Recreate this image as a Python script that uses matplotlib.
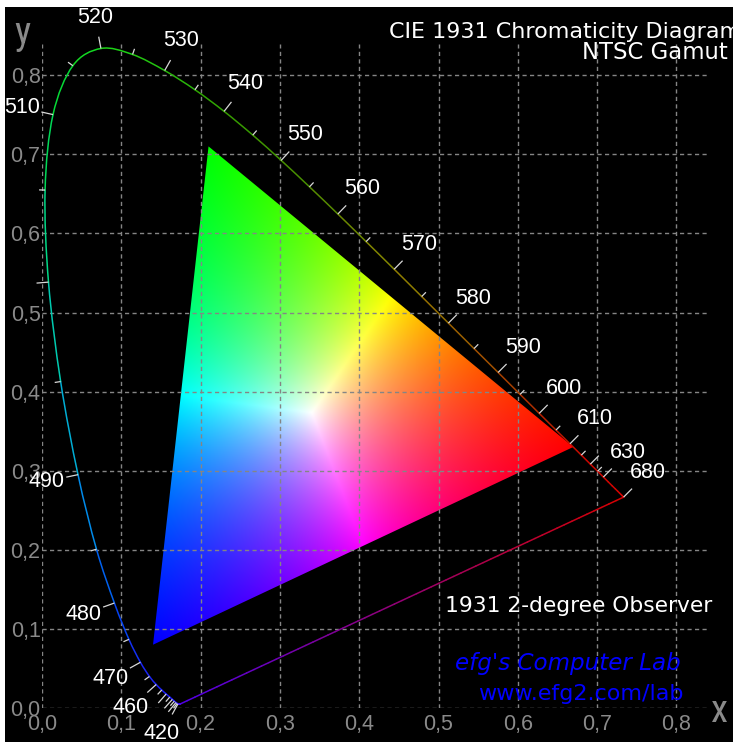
import numpy as np
import matplotlib
matplotlib.use('Agg')
import matplotlib.pyplot as plt
from matplotlib import font_manager as fm
from matplotlib.patches import Polygon, Rectangle, PathPatch
from matplotlib.path import Path
from matplotlib.ticker import FuncFormatter

# CIE 1931 2-degree observer, spectral locus chromaticities (5 nm steps)
wavelengths = list(range(380, 685, 5))
locus_x = [0.1741, 0.1740, 0.1738, 0.1736, 0.1733, 0.1730, 0.1726, 0.1721,
           0.1714, 0.1703, 0.1689, 0.1669, 0.1644, 0.1611, 0.1566, 0.1510,
           0.1440, 0.1355, 0.1241, 0.1096, 0.0913, 0.0687, 0.0454, 0.0235,
           0.0082, 0.0039, 0.0139, 0.0389, 0.0743, 0.1142, 0.1547, 0.1929,
           0.2296, 0.2658, 0.3016, 0.3373, 0.3731, 0.4087, 0.4441, 0.4788,
           0.5125, 0.5448, 0.5752, 0.6029, 0.6270, 0.6482, 0.6658, 0.6801,
           0.6915, 0.7006, 0.7079, 0.7140, 0.7190, 0.7230, 0.7260, 0.7283,
           0.7300, 0.7311, 0.7320, 0.7327, 0.7334]
locus_y = [0.0050, 0.0050, 0.0049, 0.0049, 0.0048, 0.0048, 0.0048, 0.0048,
           0.0051, 0.0058, 0.0069, 0.0086, 0.0109, 0.0138, 0.0177, 0.0227,
           0.0297, 0.0399, 0.0578, 0.0868, 0.1327, 0.2007, 0.2950, 0.4127,
           0.5384, 0.6548, 0.7502, 0.8120, 0.8338, 0.8262, 0.8059, 0.7816,
           0.7543, 0.7243, 0.6923, 0.6589, 0.6245, 0.5896, 0.5547, 0.5202,
           0.4866, 0.4544, 0.4242, 0.3965, 0.3725, 0.3514, 0.3340, 0.3197,
           0.3083, 0.2993, 0.2920, 0.2859, 0.2809, 0.2770, 0.2740, 0.2717,
           0.2700, 0.2689, 0.2680, 0.2673, 0.2666]

labeled_nm = [420, 460, 470, 480, 490, 510, 520, 530, 540, 550, 560, 570,
              580, 590, 600, 610, 630, 680]
tick_first, tick_last = 420, 630

# NTSC primaries (R, G, B)
ntsc_x = [0.67, 0.21, 0.14]
ntsc_y = [0.33, 0.71, 0.08]

grid_ticks = [0.0, 0.1, 0.2, 0.3, 0.4, 0.5, 0.6, 0.7, 0.8]

# line colour along the locus
hue_nm = [380, 440, 470, 480, 490, 500, 510, 520, 540, 555, 570, 585, 600, 615, 680]
hue_r = [0.35, 0.12, 0.10, 0.00, 0.00, 0.00, 0.00, 0.10, 0.20, 0.30, 0.55, 0.62, 0.70, 0.80, 0.85]
hue_g = [0.00, 0.10, 0.15, 0.30, 0.62, 0.85, 0.85, 0.85, 0.62, 0.55, 0.52, 0.35, 0.15, 0.03, 0.00]
hue_b = [1.00, 1.00, 0.95, 0.95, 0.90, 0.62, 0.25, 0.10, 0.00, 0.00, 0.00, 0.00, 0.00, 0.00, 0.00]


def wl_rgb(wl):
    return np.array([np.interp(wl, hue_nm, hue_r), np.interp(wl, hue_nm, hue_g),
                     np.interp(wl, hue_nm, hue_b)])


def pick(*names):
    for name in names:
        try:
            fm.findfont(fm.FontProperties(family=name), fallback_to_default=False)
            return name
        except ValueError:
            pass
    return 'DejaVu Sans'


sans = pick('Liberation Sans', 'Arimo', 'DejaVu Sans')
narrow = pick('Liberation Sans Narrow', 'Roboto Condensed', sans)

W, H = 733, 742
X0, Y0 = 42, 708          # pixel position of (0, 0)
SX, SY = 793.0, 791.0     # pixels per unit
LIM = 0.84

fig = plt.figure(figsize=(W / 100, H / 100), dpi=100, facecolor='black')
ax = fig.add_axes([X0 / W, (H - Y0) / H, LIM * SX / W, LIM * SY / H])
ax.set_facecolor('black')
ax.set_xlim(0, LIM)
ax.set_ylim(0, LIM)
for s in ax.spines.values():
    s.set_visible(False)

gray = '#8a8a8a'
ax.set_xticks(grid_ticks)
ax.set_yticks(grid_ticks)
fmt = FuncFormatter(lambda v, p: f"{v:.1f}".replace('.', ','))
ax.xaxis.set_major_formatter(fmt)
ax.yaxis.set_major_formatter(fmt)
ax.tick_params(axis='both', length=0, colors=gray, labelsize=15.5)
ax.tick_params(axis='x', pad=4.5)
ax.tick_params(axis='y', pad=1)
for lab in ax.get_xticklabels() + ax.get_yticklabels():
    lab.set_fontfamily([sans, 'DejaVu Sans'])
ax.grid(True, color='#858585', linestyle=(0, (3, 2.4)), linewidth=1.0)
ax.set_axisbelow(False)

# gamut triangle, shaded by barycentric RGB weights
(x1, y1), (x2, y2), (x3, y3) = zip(ntsc_x, ntsc_y)
gx = np.linspace(min(ntsc_x), max(ntsc_x), 700)
gy = np.linspace(min(ntsc_y), max(ntsc_y), 700)
GX, GY = np.meshgrid(gx, gy)
det = (y2 - y3) * (x1 - x3) + (x3 - x2) * (y1 - y3)
wr = ((y2 - y3) * (GX - x3) + (x3 - x2) * (GY - y3)) / det
wg = ((y3 - y1) * (GX - x3) + (x1 - x3) * (GY - y3)) / det
wb = 1 - wr - wg
rgb = np.clip(np.dstack([wr, wg, wb]), 0, None)
rgb /= rgb.max(axis=2, keepdims=True)
im = ax.imshow(rgb, extent=(gx[0], gx[-1], gy[0], gy[-1]), origin='lower',
               aspect='auto', interpolation='bilinear', zorder=1)
tri = Polygon(np.column_stack([ntsc_x, ntsc_y]), closed=True,
              facecolor='none', edgecolor='none', transform=ax.transData)
im.set_clip_path(tri)

# spectral locus as smooth segments, coloured by wavelength
pts = np.column_stack([locus_x, locus_y])
npt = len(pts)
codes = [Path.MOVETO, Path.CURVE4, Path.CURVE4, Path.CURVE4]
for i in range(npt - 1):
    p0, p1 = pts[i], pts[i + 1]
    pm = pts[max(i - 1, 0)]
    p2 = pts[min(i + 2, npt - 1)]
    c1 = p0 + (p1 - pm) / 6
    c2 = p1 - (p2 - p0) / 6
    col = wl_rgb((wavelengths[i] + wavelengths[i + 1]) / 2)
    ax.add_patch(PathPatch(Path([p0, c1, c2, p1], codes), facecolor='none',
                           edgecolor=col, lw=1.1, zorder=3, clip_on=False,
                           capstyle='round'))

# line of purples, red end to violet end
n = 60
t = np.linspace(0, 1, n + 1)
pp = pts[-1] + (pts[0] - pts[-1]) * t[:, None]
c_red, c_vio = wl_rgb(680), np.array([0.35, 0.0, 1.0]) * 0.9
for k in range(n):
    m = (t[k] + t[k + 1]) / 2
    ax.plot(pp[k:k + 2, 0], pp[k:k + 2, 1], color=c_red * (1 - m) + c_vio * m,
            lw=1.1, zorder=3, clip_on=False, solid_capstyle='round')

# wavelength ticks and labels
disp = ax.transData.transform(pts)
inv = ax.transData.inverted()
for i, wl in enumerate(wavelengths):
    if wl < tick_first or (wl > tick_last and wl not in labeled_nm):
        continue
    a = disp[max(i - 1, 0)]
    b = disp[min(i + 1, npt - 1)]
    tx, ty = (b - a) / np.hypot(*(b - a))
    nx, ny = -ty, tx
    p = disp[i]
    length = 12 if wl % 10 == 0 else 6
    end = p + np.array([nx, ny]) * length
    seg = inv.transform(np.array([p, end]))
    ax.plot(seg[:, 0], seg[:, 1], color='#d8d8d8', lw=0.9, zorder=4,
            clip_on=False, solid_capstyle='butt')
    if wl in labeled_nm:
        r = 30 + 10 * abs(nx * ny)
        c = inv.transform(p + np.array([nx, ny]) * r)
        ax.text(c[0], c[1], str(wl), color='white', fontsize=15.5,
                family=[sans, 'DejaVu Sans'],
                ha='center', va='center', zorder=6, clip_on=False)

# axis letters
fig.text(720 / W, 1 - 712 / H, 'x', color=gray, fontsize=28, family=[narrow, 'DejaVu Sans'],
         ha='center', va='center')
fig.text(22 / W, 1 - 33 / H, 'y', color=gray, fontsize=28, family=[narrow, 'DejaVu Sans'],
         ha='center', va='center')


# captions
def px_text(x, y, s, **kw):
    fig.text(x / W, 1 - y / H, s, va='baseline', ha='left',
             family=['DejaVu Sans'], **kw)


px_text(389, 37.5, 'CIE 1931 Chromaticity Diagram', color='white', fontsize=16.0)
px_text(582, 59, 'NTSC Gamut', color='white', fontsize=16.4)
px_text(445, 612, '1931 2-degree Observer', color='white', fontsize=15.7)
px_text(455, 670, "efg's Computer Lab", color='#0000ff', fontsize=16.6,
        style='italic')
px_text(478, 700, 'www.efg2.com/lab', color='#0000ff', fontsize=16)

# white margins on top and left
fig.add_artist(Rectangle((0, 1 - 7 / H), 1, 7 / H, transform=fig.transFigure,
                         facecolor='white', edgecolor='none', zorder=20))
fig.add_artist(Rectangle((0, 0), 5 / W, 1, transform=fig.transFigure,
                         facecolor='white', edgecolor='none', zorder=20))

fig.savefig('out.png', dpi=100, facecolor=fig.get_facecolor())
